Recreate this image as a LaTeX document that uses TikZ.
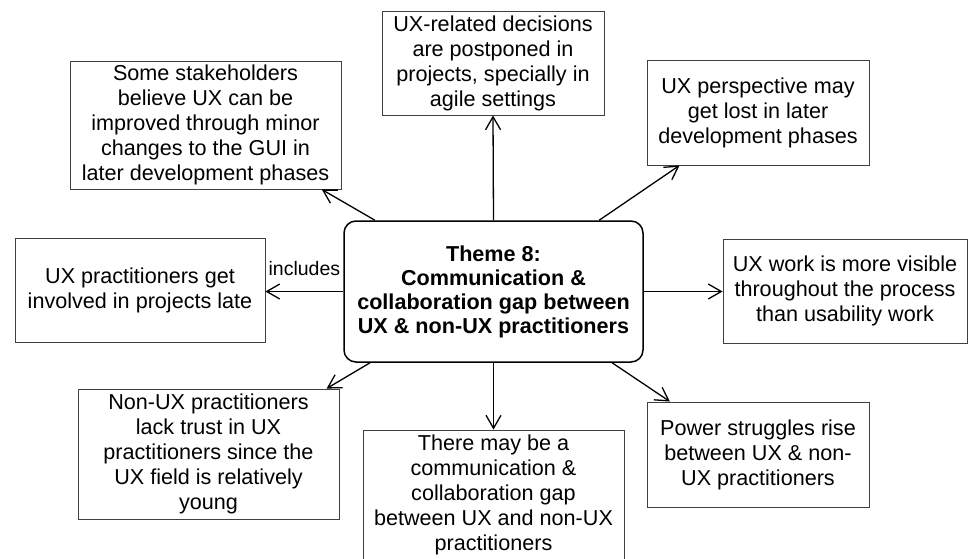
\documentclass[tikz,border=0pt]{standalone}
\usepackage{fontspec}
\setmainfont{Liberation Sans}
\usetikzlibrary{arrows.meta}
\begin{document}
\begin{tikzpicture}[x=1pt,y=-1pt,
  box/.style={draw=black!75, line width=0.9pt, rectangle, inner sep=0pt, align=center, font=\fontsize{21.6}{25}\selectfont},
  theme/.style={draw=black, line width=1.5pt, rounded corners=12pt, rectangle, inner sep=0pt, align=center, font=\fontsize{21.6}{24}\selectfont\bfseries},
  conn/.style={line width=1.3pt, -{Straight Barb[length=13pt,width=15pt]}},
  lbl/.style={font=\fontsize{19.5}{22}\selectfont, inner sep=0pt}
]
\useasboundingbox (0,0) rectangle (972,558);

\node[theme, minimum width=299pt, minimum height=141pt] (c) at (493.5,291.5)
  {Theme 8:\\Communication \&\\collaboration gap between\\UX \& non-UX practitioners};

\node[box, minimum width=271pt, minimum height=128pt] (tl) at (205.5,125)
  {Some stakeholders\\believe UX can be\\improved through minor\\changes to the GUI in\\later development phases};
\node[box, minimum width=222pt, minimum height=104pt] (tc) at (493,63)
  {UX-related decisions\\are postponed in\\projects, specially in\\agile settings};
\node[box, minimum width=222pt, minimum height=105pt] (tr) at (758,112.5)
  {UX perspective may\\get lost in later\\development phases};
\node[box, minimum width=250pt, minimum height=104pt] (l) at (140,290)
  {UX practitioners get\\involved in projects late};
\node[box, minimum width=244pt, minimum height=104pt] (r) at (845,291)
  {UX work is more visible\\throughout the process\\than usability work};
\node[box, minimum width=261pt, minimum height=130pt] (bl) at (208.5,454)
  {Non-UX practitioners\\lack trust in UX\\practitioners since the\\UX field is relatively\\young};
\node[box, minimum width=261pt, minimum height=130pt] (bc) at (493.5,495)
  {There may be a\\communication \&\\collaboration gap\\between UX and non-UX\\practitioners};
\node[box, minimum width=222pt, minimum height=105pt] (br) at (758,454.5)
  {Power struggles rise\\between UX \& non-\\UX practitioners};

\draw[conn] (c.149.7) -- (tl.-29.4);
\draw[conn] (c.north) -- (tc.south);
\draw[conn] (c.34) -- (tr.-146.7);
\draw[conn] (c.west) -- (l.east |- c.west) node[lbl, pos=0.5, yshift=23pt] (inc) {includes};
\draw[conn] (c.east) -- (r.west |- c.east);
\draw[conn] (c.-150.3) -- (bl.29.6);
\draw[conn] (c.south) -- (bc.north);
\draw[conn] (c.-31.8) -- (br.149.2);
\end{tikzpicture}
\end{document}
